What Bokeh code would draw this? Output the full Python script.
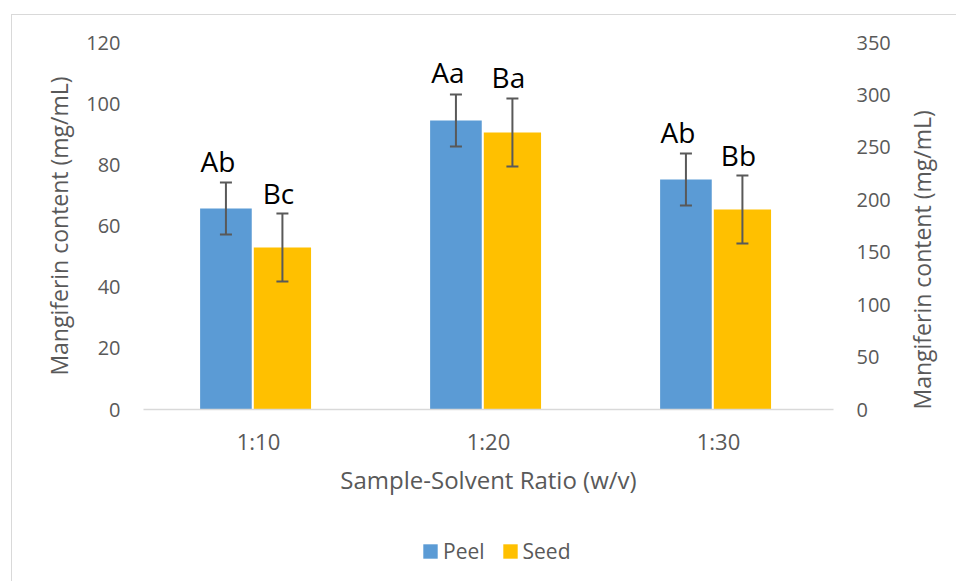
import math
from bokeh.plotting import figure
from bokeh.layouts import column
from bokeh.models import (ColumnDataSource, FactorRange, Range1d, LinearAxis, FixedTicker,
                          Whisker, TeeHead, Legend, LegendItem)
from bokeh.transform import dodge
from bokeh.core.properties import value
from bokeh.embed import file_html
from bokeh.resources import INLINE

# ---- data ----
categories = ["1:10", "1:20", "1:30"]
peel_values = [65.7, 94.5, 75.2]        # left axis (mg/mL)
peel_errors = [8.5, 8.5, 8.5]
peel_letters = ["Ab", "Aa", "Ab"]
seed_values = [154.5, 264.2, 190.7]     # right axis (mg/mL)
seed_errors = [32.4, 32.4, 32.4]
seed_letters = ["Bc", "Ba", "Bb"]
left_ticks = [0, 20, 40, 60, 80, 100, 120]
right_ticks = [0, 50, 100, 150, 200, 250, 300, 350]
series_names = ["Peel", "Seed"]

x_title = "Sample-Solvent Ratio (w/v)"
y_title = "Mangiferin content (mg/mL)"

FONT = "Open Sans"
GRAY = "#595959"
BLUE = "#5B9BD5"
YELLOW = "#FFC000"

peel_src = ColumnDataSource(dict(
    cat=categories, val=peel_values,
    upper=[v + e for v, e in zip(peel_values, peel_errors)],
    lower=[v - e for v, e in zip(peel_values, peel_errors)],
    lab=peel_letters))
seed_src = ColumnDataSource(dict(
    cat=categories, val=seed_values,
    upper=[v + e for v, e in zip(seed_values, seed_errors)],
    lower=[v - e for v, e in zip(seed_values, seed_errors)],
    lab=seed_letters))

W = 944
H1 = 494
H2 = 72

p = figure(width=W, height=H1, x_range=FactorRange(*categories),
           y_range=Range1d(0, 120), output_backend="svg", toolbar_location=None,
           min_border_left=131, min_border_top=27, min_border_right=118,
           min_border_bottom=100)
p.extra_y_ranges = {"right": Range1d(0, 350)}
p.outline_line_color = None
p.xgrid.grid_line_color = None
p.ygrid.grid_line_color = None
p.background_fill_color = "white"
p.border_fill_color = "white"

PEEL_OFF, PEEL_W = -0.1416, 0.2245
SEED_OFF, SEED_W = 0.104, 0.249

p.vbar(x=dodge("cat", PEEL_OFF, range=p.x_range), top="val", width=PEEL_W,
       source=peel_src, fill_color=BLUE, line_color=None)
p.vbar(x=dodge("cat", SEED_OFF, range=p.x_range), top="val", width=SEED_W,
       source=seed_src, fill_color=YELLOW, line_color=None, y_range_name="right")

for src, off, rng in ((peel_src, PEEL_OFF, "default"), (seed_src, SEED_OFF, "right")):
    w = Whisker(base=dodge("cat", off, range=p.x_range), upper="upper", lower="lower",
                source=src, line_color=GRAY, line_width=2, level="annotation",
                upper_head=TeeHead(size=12, line_color=GRAY, line_width=2),
                lower_head=TeeHead(size=12, line_color=GRAY, line_width=2))
    if rng == "right":
        w.y_range_name = "right"
    p.add_layout(w)

p.text(x=dodge("cat", PEEL_OFF, range=p.x_range), y="upper", text="lab", source=peel_src,
       text_font=value(FONT), text_font_size="28px", text_color="black",
       text_align="center", text_baseline="alphabetic", x_offset=-8, y_offset=-22)
p.text(x=dodge("cat", SEED_OFF, range=p.x_range), y="upper", text="lab", source=seed_src,
       text_font=value(FONT), text_font_size="28px", text_color="black",
       text_align="center", text_baseline="alphabetic", x_offset=-4, y_offset=-21,
       y_range_name="right")

# x axis
xa = p.xaxis[0]
xa.axis_line_color = "#d9d9d9"
xa.axis_line_width = 1.5
xa.major_tick_line_color = None
xa.minor_tick_line_color = None
xa.major_tick_out = 0
xa.major_label_standoff = 16
xa.major_label_text_font = FONT
xa.major_label_text_font_size = "22px"
xa.major_label_text_color = GRAY
xa.axis_label = x_title
xa.axis_label_text_font = FONT
xa.axis_label_text_font_size = "24px"
xa.axis_label_text_font_style = "normal"
xa.axis_label_text_color = GRAY
xa.axis_label_standoff = 4

# left axis
ya = p.yaxis[0]
ya.ticker = FixedTicker(ticks=left_ticks)
ya.axis_line_color = None
ya.major_tick_line_color = None
ya.minor_tick_line_color = None
ya.major_tick_out = 0
ya.major_label_standoff = 23
ya.major_label_text_font = FONT
ya.major_label_text_font_size = "20px"
ya.major_label_text_color = GRAY
ya.axis_label = y_title
ya.axis_label_text_font = FONT
ya.axis_label_text_font_size = "23px"
ya.axis_label_text_font_style = "normal"
ya.axis_label_text_color = GRAY
ya.axis_label_standoff = 8

# right axis
ra = LinearAxis(y_range_name="right", ticker=FixedTicker(ticks=right_ticks))
ra.axis_line_color = None
ra.major_tick_line_color = None
ra.minor_tick_line_color = None
ra.major_tick_out = 0
ra.major_label_standoff = 23
ra.major_label_text_font = FONT
ra.major_label_text_font_size = "20px"
ra.major_label_text_color = GRAY
ra.axis_label = y_title
ra.axis_label_text_font = FONT
ra.axis_label_text_font_size = "23px"
ra.axis_label_text_font_style = "normal"
ra.axis_label_text_color = GRAY
ra.axis_label_standoff = 28
if hasattr(ra, "axis_label_orientation"):
    ra.axis_label_orientation = math.pi / 2
    for _al in ("start", "left"):
        try:
            ra.axis_label_align = _al
            break
        except Exception:
            pass
p.add_layout(ra, "right")

# ---- legend strip below the chart ----
p2 = figure(width=W, height=H2, x_range=Range1d(0, 1), y_range=Range1d(0, 1),
            x_axis_type=None, y_axis_type=None, output_backend="svg",
            toolbar_location=None, min_border=0)
p2.outline_line_color = None
p2.background_fill_color = "white"
p2.border_fill_color = "white"
# legend swatches only (zero-height, off-range marks: nothing drawn in this strip)
lg_peel = p2.vbar(x="val", top=0, bottom=0, width=0.1, source=peel_src,
                  fill_color=BLUE, line_color=None)
lg_seed = p2.vbar(x="val", top=0, bottom=0, width=0.1, source=seed_src,
                  fill_color=YELLOW, line_color=None)
legend = Legend(items=[LegendItem(label=series_names[0], renderers=[lg_peel]),
                       LegendItem(label=series_names[1], renderers=[lg_seed])],
                orientation="horizontal", location=(278, 16),
                glyph_width=18, glyph_height=18, label_standoff=4, spacing=16,
                padding=0, margin=0, border_line_color=None, background_fill_alpha=0,
                label_text_font=FONT, label_text_font_size="21px", label_text_color=GRAY)
p2.add_layout(legend, "center")

layout = column(p, p2, spacing=0)
layout.styles = {"margin-left": "11px", "margin-top": "14px",
                 "border-left": "1px solid #d9d9d9", "border-top": "1px solid #d9d9d9"}

open("out.html", "w").write(file_html(layout, INLINE))
